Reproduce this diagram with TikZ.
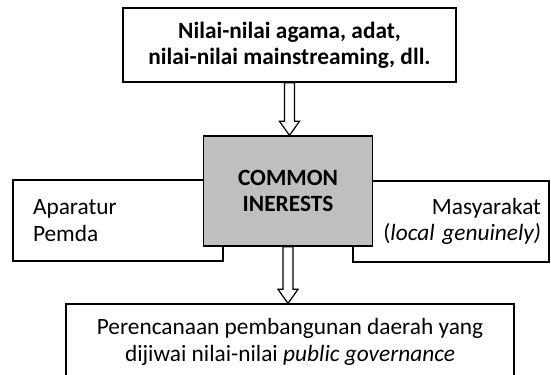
\documentclass[tikz,border=0pt]{standalone}
\usepackage{fontspec}
\setmainfont{Carlito}
\usetikzlibrary{calc}
\tikzset{
  box/.style={draw, line width=1pt, fill=white, inner sep=0pt,
    font=\fontsize{17.5}{19.8}\selectfont},
  graybox/.style={box, fill=gray!50, font=\fontsize{17.5}{19.8}\selectfont\bfseries, align=center},
  arrowline/.style={draw, fill=white, line width=0.9pt, line join=miter},
}
\newcommand\hollowarrow[2]{%
  \path[arrowline] ($(#1.south)+(-5,0)$)
    -- ($(#1.south |- #2.north)+(-5,-14)$)
    -- ($(#1.south |- #2.north)+(-10,-14)$)
    -- (#1.south |- #2.north)
    -- ($(#1.south |- #2.north)+(10,-14)$)
    -- ($(#1.south |- #2.north)+(5,-14)$)
    -- ($(#1.south)+(5,0)$) -- cycle;}
\begin{document}
\begin{tikzpicture}[x=0.75pt,y=-0.75pt]
\clip (0,0) rectangle (551,375);
\fill[white] (0,0) rectangle (551,375);
% side boxes (behind)
\node[box, minimum height=60.75pt, text width=127.5pt, inner xsep=15pt, align=left]
  (left) at (118,220.5) {Aparatur\\Pemda};
\node[box, minimum height=60.75pt, text width=135pt, inner xsep=6pt, align=right]
  (right) at (451,221.5) {Masyarakat\\(\textit{local genuinely)}};
% centre
\node[graybox, minimum width=126.75pt, minimum height=82.5pt] (common) at (288,191) {COMMON\\INERESTS};
% top
\node[box, font=\fontsize{17.5}{19.2}\selectfont\bfseries, align=center,
  minimum width=249.75pt, minimum height=55.5pt] (values) at (289.5,45)
  {Nilai-nilai agama, adat,\\nilai-nilai mainstreaming, dll.};
% bottom
\node[box, align=center, minimum width=336pt, minimum height=57pt] (plan) at (290,342)
  {Perencanaan pembangunan daerah yang\\dijiwai nilai-nilai \textit{public governance}};
% arrows
\hollowarrow{values}{common}
\hollowarrow{common}{plan}
\end{tikzpicture}
\end{document}
